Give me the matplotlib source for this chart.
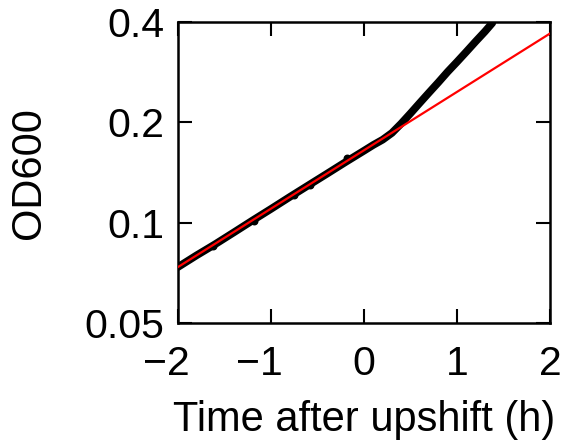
import matplotlib
matplotlib.use("Agg")
import matplotlib.pyplot as plt
from matplotlib.ticker import FixedLocator, FixedFormatter, NullLocator
from matplotlib.transforms import ScaledTranslation

# OD600 readings around the nutrient upshift (t = 0)
t_data = [-2.0, -1.8, -1.6, -1.4, -1.2, -1.0, -0.8, -0.6, -0.4, -0.2,
          0.0, 0.1, 0.2, 0.3, 0.4, 0.5, 0.6, 0.7, 0.8, 0.9,
          1.0, 1.1, 1.2, 1.3, 1.38]
od_data = [0.0736, 0.0798, 0.0862, 0.0935, 0.1015, 0.1100, 0.1194, 0.1294, 0.1402, 0.1520,
           0.1645, 0.1712, 0.1775, 0.1860, 0.1985, 0.2130, 0.2290, 0.2460, 0.2640, 0.2840,
           0.3040, 0.3260, 0.3500, 0.3750, 0.3980]

# a few scattered points lying just under the pre-shift trend
t_dots = [-1.62, -1.18, -0.75, -0.58, -0.18]
od_dots = [0.0850, 0.1010, 0.1210, 0.1295, 0.1565]

# exponential fit to the pre-shift phase
t_fit = [-2.0, 2.0]
od_fit = [0.0736, 0.370]

yticks = [0.05, 0.1, 0.2, 0.4]
ytick_labels = ["0.05", "0.1", "0.2", "0.4"]
xticks = [-2, -1, 0, 1, 2]
xtick_labels = ["\u22122", "\u22121", "0", "1", "2"]

plt.rcParams["font.family"] = ["Liberation Sans", "DejaVu Sans"]

fig = plt.figure(figsize=(5.63, 4.44), dpi=100)
ax = fig.add_axes([0.316, 0.2725, 0.661, 0.6775])

ax.plot(t_data, od_data, color="black", lw=5.5, solid_capstyle="round",
        solid_joinstyle="round", zorder=2)
ax.scatter(t_dots, od_dots, s=22, color="black", zorder=2)
ax.plot(t_fit, od_fit, color="red", lw=1.6, zorder=3)

ax.set_yscale("log")
ax.set_xlim(-2, 2)
ax.set_ylim(0.05, 0.4)
ax.yaxis.set_major_locator(FixedLocator(yticks))
ax.yaxis.set_major_formatter(FixedFormatter(ytick_labels))
ax.yaxis.set_minor_locator(NullLocator())
ax.set_xticks(xticks)
ax.set_xticklabels(xtick_labels)

ax.tick_params(direction="in", length=10, width=1.5, labelsize=29.5,
               top=True, right=True)
ax.tick_params(axis="x", pad=16)
ax.tick_params(axis="y", pad=10)
for s in ax.spines.values():
    s.set_linewidth(1.8)

# keep the digit centred on the tick, minus sign hanging to the left
shift = ScaledTranslation(-0.12, 0, fig.dpi_scale_trans)
for lab in ax.get_xticklabels():
    if lab.get_text().startswith("\u2212"):
        lab.set_transform(lab.get_transform() + shift)

ax.set_xlabel("Time after upshift (h)", fontsize=30, labelpad=12)
ax.set_ylabel("OD600", fontsize=30, labelpad=25)

fig.savefig("out.png", dpi=100)
